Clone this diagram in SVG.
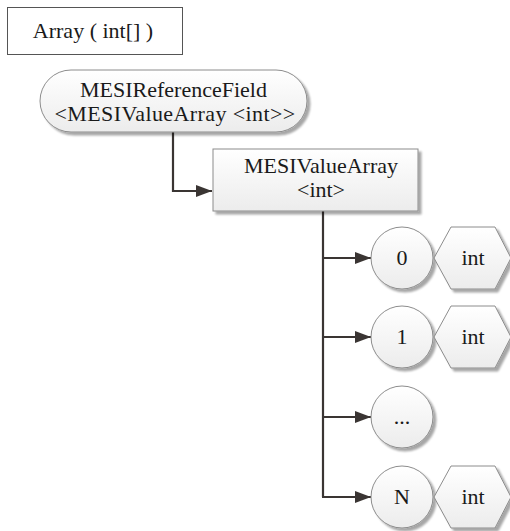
<svg xmlns="http://www.w3.org/2000/svg" width="510" height="531" viewBox="0 0 510 531">
  <defs>
    <linearGradient id="shade" x1="0" y1="0" x2="0" y2="1">
      <stop offset="0" stop-color="#ffffff"/>
      <stop offset="1" stop-color="#ececec"/>
    </linearGradient>
    <filter id="drop" x="-10%" y="-10%" width="130%" height="130%">
      <feGaussianBlur in="SourceAlpha" stdDeviation="1.2"/>
      <feOffset dx="2.5" dy="2.5" result="b"/>
      <feComponentTransfer><feFuncA type="linear" slope="0.35"/></feComponentTransfer>
      <feMerge><feMergeNode/><feMergeNode in="SourceGraphic"/></feMerge>
    </filter>
    <marker id="arrow" viewBox="0 0 16 12" refX="16" refY="6" markerWidth="16" markerHeight="12" markerUnits="userSpaceOnUse" orient="auto">
      <path d="M0,0 L16,6 L0,12 Z" fill="#3a3533"/>
    </marker>
  </defs>
  <style>
    text { font-family: "Liberation Serif", "Times New Roman", serif; font-size: 22px; fill: #1a1a1a; text-anchor: middle; }
    .shape { fill: url(#shade); stroke: #8c8c8c; stroke-width: 1; filter: url(#drop); }
    .link { fill: none; stroke: #3a3533; stroke-width: 2.2; marker-end: url(#arrow); }
  </style>
  <rect width="510" height="531" fill="#ffffff"/>

  <!-- title box -->
  <g id="title">
    <rect x="7.5" y="7.5" width="175" height="47" fill="#ffffff" stroke="#555555" stroke-width="1"/>
    <text x="93" y="38">Array ( int[] )</text>
  </g>

  <!-- connectors -->
  <g id="connectors">
    <path class="link" d="M173,132 V191 H212"/>
    <path d="M323,211 V497" fill="none" stroke="#3a3533" stroke-width="2.2"/>
    <path class="link" d="M322,258 H371"/>
    <path class="link" d="M322,337 H371"/>
    <path class="link" d="M322,417 H371"/>
    <path class="link" d="M322,497 H371"/>
  </g>

  <g id="reference-field">
    <rect class="shape" x="40" y="70" width="267" height="62" rx="31" ry="31"/>
    <text x="173.5" y="97">MESIReferenceField</text>
    <text x="175" y="121" letter-spacing="0.4">&lt;MESIValueArray &lt;int&gt;&gt;</text>
  </g>

  <g id="value-array">
    <rect class="shape" x="213" y="149" width="205" height="62"/>
    <text x="321" y="173">MESIValueArray</text>
    <text x="321" y="197">&lt;int&gt;</text>
  </g>

  <g id="index-0">
    <circle class="shape" cx="402" cy="258" r="31"/>
    <text x="402" y="265">0</text>
  </g>
  <g id="type-0">
    <polygon class="shape" points="434,258 451,227 495,227 511,258 495,289 451,289"/>
    <text x="473" y="265">int</text>
  </g>

  <g id="index-1">
    <circle class="shape" cx="402" cy="337" r="31"/>
    <text x="402" y="344">1</text>
  </g>
  <g id="type-1">
    <polygon class="shape" points="434,337 451,306 495,306 511,337 495,368 451,368"/>
    <text x="473" y="344">int</text>
  </g>

  <g id="index-more">
    <circle class="shape" cx="402" cy="417" r="31"/>
    <text x="402" y="424">...</text>
  </g>

  <g id="index-n">
    <circle class="shape" cx="402" cy="497" r="31"/>
    <text x="402" y="504">N</text>
  </g>
  <g id="type-n">
    <polygon class="shape" points="434,497 451,466 495,466 511,497 495,528 451,528"/>
    <text x="473" y="504">int</text>
  </g>
</svg>
